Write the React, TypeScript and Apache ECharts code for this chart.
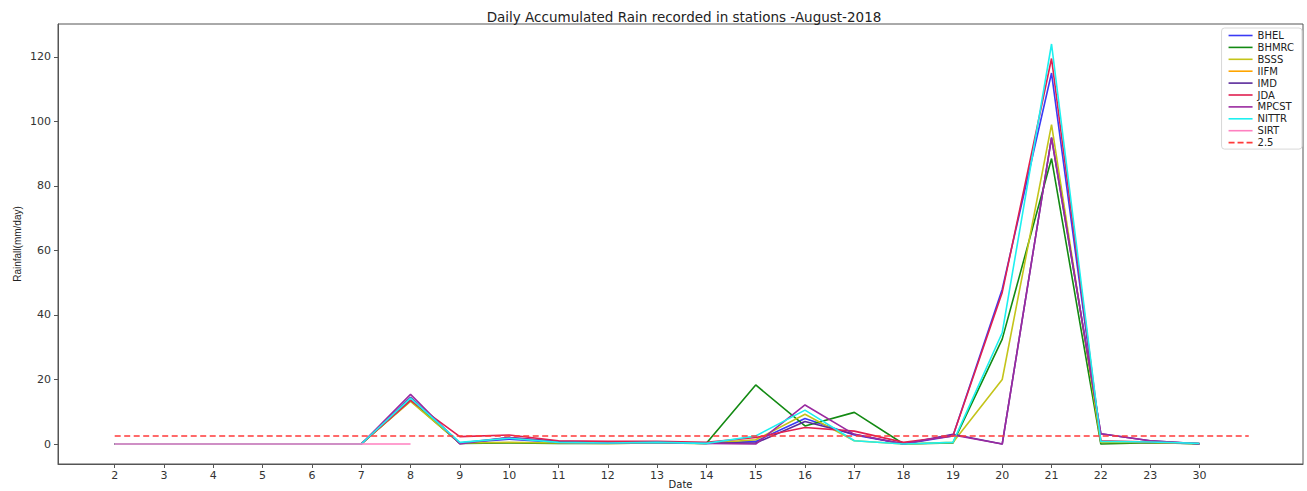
import React, { useEffect, useRef } from "react";
import * as echarts from "echarts";

const dates = ["2", "3", "4", "5", "6", "7", "8", "9", "10", "11", "12", "13", "14", "15", "16", "17", "18", "19", "20", "21", "22", "23", "30", ""];

const BHEL = [0, 0, 0, 0, 0, 0, 13.5, 0.3, 1.5, 0.5, 0.3, 0.5, 0.2, 0.8, 7.9, 2.8, 0, 2.5, 48, 115, 0.5, 0.5, 0.1, null];
const BHMRC = [0, 0, 0, 0, 0, 0, 13.5, 0.2, 0.3, 0.2, 0.2, 0.3, 0.2, 18.3, 5.6, 9.8, 0, 0.3, 32.5, 88.5, 0, 0.4, 0.1, null];
const BSSS = [0, 0, 0, 0, 0, 0, 13.2, 0.3, 0.5, 0.3, 0.2, 0.3, 0.2, 1.3, 9.2, 1, 0, 0.5, 20, 99, 0.5, 0.5, 0.1, null];
const IIFM: (number | null)[] = [null, null, null, null, null, null, null, null, null, null, null, null, null, null, null, null, null, null, null, null, null, null, null, null];
const IMD = [0, 0, 0, 0, 0, 0, 14.5, 0.3, 2, 0.8, 0.5, 0.5, 0.3, 0.3, 7, 3, 0, 3, 0, 95, 3.2, 1, 0.1, null];
const JDA = [0, 0, 0, 0, 0, 0, 13.5, 2.3, 2.8, 1, 0.8, 0.8, 0.5, 2, 5.1, 4, 0.5, 2.5, 47, 119.5, 1, 0.6, 0.2, null];
const MPCST = [0, 0, 0, 0, 0, 0, 15.4, 0, 2, 0.5, 0.3, 0.5, 0.2, 0, 12.1, 3, 0, 2.8, 0, 95, 3.2, 1, 0.1, null];
const NITTR = [0, 0, 0, 0, 0, 0, 14.2, 0.5, 1.8, 0.5, 0.3, 0.5, 0.2, 2.5, 10.5, 1, 0, 0.5, 34.5, 124, 0.8, 0.6, 0.2, null];
const SIRT = [0, 0, 0, 0, 0, 0, 0, null, null, null, null, null, null, null, null, null, null, null, null, null, null, null, null, null];
const THRESH = [2.5, 2.5, 2.5, 2.5, 2.5, 2.5, 2.5, 2.5, 2.5, 2.5, 2.5, 2.5, 2.5, 2.5, 2.5, 2.5, 2.5, 2.5, 2.5, 2.5, 2.5, 2.5, 2.5, 2.5];

const yTicks = [0, 20, 40, 60, 80, 100, 120];

const seriesDefs = [
  { name: "BHEL", data: BHEL, color: "#3a3af5" },
  { name: "BHMRC", data: BHMRC, color: "#138a13" },
  { name: "BSSS", data: BSSS, color: "#c4c41a" },
  { name: "IIFM", data: IIFM, color: "#ffa500" },
  { name: "IMD", data: IMD, color: "#5a2a9a" },
  { name: "JDA", data: JDA, color: "#e02050" },
  { name: "MPCST", data: MPCST, color: "#9a2aa0" },
  { name: "NITTR", data: NITTR, color: "#1ef0f0" },
  { name: "SIRT", data: SIRT, color: "#ff80c0" },
];

const solidIcon = "path://M0,0H24V1.6H0Z";
const dashIcon = "path://M0,0H6V1.6H0Z M9,0H15V1.6H9Z M18,0H24V1.6H18Z";

export default function App() {
  const ref = useRef<HTMLDivElement>(null);
  useEffect(() => {
    if (!ref.current) return;
    const chart = echarts.init(ref.current, undefined, { renderer: "svg" });
    const font = "DejaVu Sans";
    const series: any[] = seriesDefs.map((s) => ({
      name: s.name,
      type: "line",
      symbol: "none",
      data: s.data.map((v, i) => [i, v]),
      lineStyle: { color: s.color, width: 1.6 },
      itemStyle: { color: s.color },
      connectNulls: false,
    }));
    series.push({
      name: "2.5",
      type: "line",
      symbol: "none",
      data: THRESH.map((v, i) => [i, v]),
      lineStyle: { color: "#ff3a3a", width: 1.5, type: [6, 3.5] },
      itemStyle: { color: "#ff3a3a" },
    });
    chart.setOption({
      animation: false,
      backgroundColor: "#fff",
      title: {
        text: "Daily Accumulated Rain recorded in stations -August-2018",
        left: 679,
        textAlign: "center",
        top: 5,
        textStyle: { fontFamily: font, fontSize: 13.5, fontWeight: "normal", color: "#222" },
      },
      legend: {
        orient: "vertical",
        right: 5,
        top: 28,
        itemWidth: 24,
        itemHeight: 2,
        itemGap: 0.9,
        padding: [2, 8, 1, 7],
        borderColor: "#d8d8d8",
        borderWidth: 1,
        borderRadius: 3,
        backgroundColor: "#fff",
        textStyle: { fontFamily: font, fontSize: 10, color: "#222", lineHeight: 11 },
        data: [
          ...seriesDefs.map((s) => ({ name: s.name, icon: solidIcon })),
          { name: "2.5", icon: dashIcon },
        ],
      },
      grid: {
        left: 58,
        right: 4,
        top: 24,
        bottom: 27,
        show: true,
        borderColor: "#555",
        borderWidth: 1,
        containLabel: false,
        outerBoundsMode: "none",
      },
      xAxis: {
        type: "value",
        min: -1.15,
        max: 24.1,
        name: "Date",
        nameLocation: "middle",
        nameMoveOverlap: false,
        nameGap: 20,
        nameTextStyle: { fontFamily: font, fontSize: 10, color: "#222", verticalAlign: "middle" },
        axisLine: { show: true, onZero: false, lineStyle: { color: "#555" } },
        axisTick: { show: true, customValues: dates.slice(0, 23).map((_, i) => i), lineStyle: { color: "#555" }, length: 4 },
        axisLabel: {
          customValues: dates.slice(0, 23).map((_, i) => i),
          formatter: (v: number) => dates[Math.round(v)] ?? "",
          fontFamily: font,
          fontSize: 11,
          color: "#333",
          margin: 6,
        },
        splitLine: { show: false },
      },
      yAxis: {
        type: "value",
        min: -6.2,
        max: 130.2,
        name: "Rainfall(mm/day)",
        nameLocation: "middle",
        nameMoveOverlap: false,
        nameGap: 41,
        nameRotate: 90,
        nameTextStyle: { fontFamily: "Liberation Sans Narrow, Liberation Sans", fontSize: 10, color: "#222", verticalAlign: "middle" },
        axisLine: { show: true, onZero: false, lineStyle: { color: "#555" } },
        axisTick: { show: true, customValues: yTicks, lineStyle: { color: "#555" }, length: 4 },
        axisLabel: {
          customValues: yTicks,
          fontFamily: font,
          fontSize: 11,
          color: "#333",
          margin: 7,
        },
        splitLine: { show: false },
      },
      series,
    });
    return () => chart.dispose();
  }, []);
  return <div ref={ref} style={{ width: 1307, height: 491, position: "absolute", left: 0, top: 0 }} />;
}
